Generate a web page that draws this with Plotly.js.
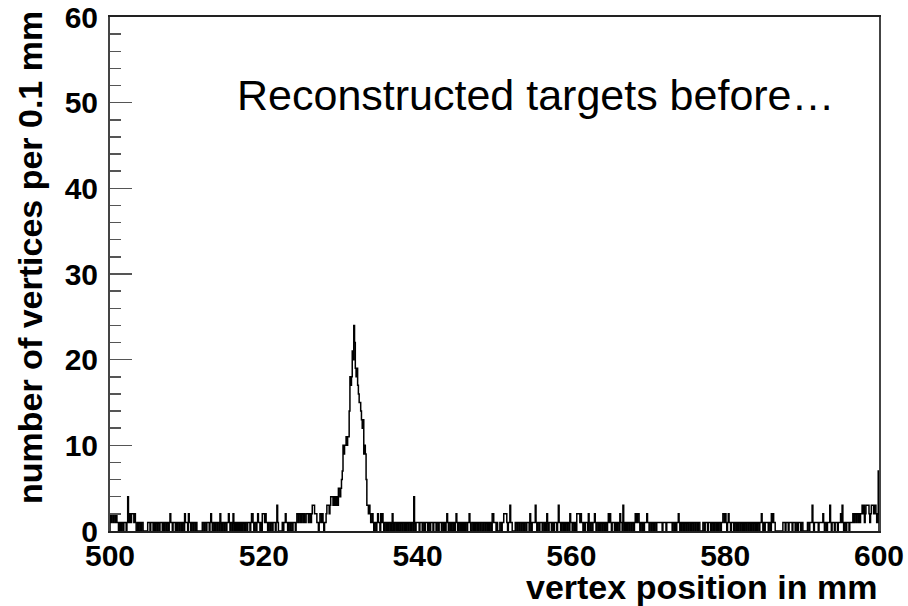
<!DOCTYPE html>
<html>
<head>
<meta charset="utf-8">
<script src="https://cdn.plot.ly/plotly-3.0.1.min.js"></script>
<style>html,body{margin:0;padding:0;background:#fff}#chart{width:908px;height:606px}</style>
</head>
<body>
<div id="chart"></div>
<script>
// Histogram: vertices per 0.1 mm bin, from 500 mm to 600 mm
const binStart = 500;
const binWidth = 0.1;

const counts500 = [
2,1,2,2,1,2,2,1,2,1, 1,0,1,1,0,1,1,0,1,1, 1,0,1,4,1,2,2,1,2,2, 2,1,2,1,0,0,1,0,1,1, 0,1,1,0,0,0,0,0,0,1,
1,1,0,1,1,1,0,1,0,1, 1,0,1,1,0,1,1,1,0,1, 0,1,1,0,1,1,0,1,2,1, 1,0,1,1,1,0,1,0,1,1, 0,1,1,0,1,1,0,2,1,1];
const counts510 = [
1,0,2,1,1,0,1,1,0,1, 1,0,1,0,0,0,0,0,0,0, 1,1,0,1,1,0,1,1,1,0, 1,2,1,0,1,1,0,1,1,0, 1,1,0,2,1,0,1,1,0,1,
1,0,1,1,2,1,0,1,1,0, 2,1,0,1,0,1,0,1,0,1, 0,1,0,1,1,0,1,1,0,1, 1,1,0,1,2,2,1,0,1,1, 0,1,2,1,1,0,1,0,2,2];
const counts520 = [
2,1,2,1,1,0,1,1,0,1, 1,0,1,1,1,0,1,3,1,0, 0,0,0,0,1,0,1,1,2,1, 1,0,1,1,0,1,1,0,1,1, 1,0,1,2,2,1,2,2,1,2,
2,1,2,1,1,2,2,2,1,2, 2,1,2,3,3,3,2,2,2,1, 1,0,1,2,2,1,2,1,0,1, 1,2,3,3,3,2,3,4,4,4, 3,4,3,4,3,4,3,5,5,4];
const counts530 = [
5,6,7,10,9,10,10,11,10,11, 11,14,18,17,18,21,20,24,22,19, 18,19,17,16,15,15,14,13,12,13, 9,10,9,6,3,3,2,3,2,1, 1,2,1,0,1,1,0,1,2,1,
1,0,2,1,2,1,0,1,1,0, 1,0,1,1,0,1,0,2,1,0, 1,1,0,1,0,1,1,0,1,1, 0,1,1,0,1,0,1,1,0,1, 1,0,1,1,0,4,1,0,1,1];
const counts540 = [
1,1,0,1,1,1,0,1,1,0, 1,1,1,0,1,1,0,1,1,1, 0,1,1,1,0,1,1,0,1,1, 1,0,1,1,0,1,0,1,2,1, 0,1,1,0,1,1,0,1,0,1,
2,1,0,1,1,0,1,0,1,0, 1,0,1,1,0,1,1,2,1,0, 0,1,1,0,1,0,1,1,0,1, 1,0,1,1,0,0,1,1,0,1, 1,0,1,0,1,1,0,2,2,1];
const counts550 = [
1,1,0,1,0,0,0,1,1,0, 1,1,2,2,2,2,1,0,1,1, 3,1,1,0,0,0,0,1,1,0, 1,1,0,1,1,0,1,1,0,1, 1,0,1,1,1,0,2,1,0,1,
1,1,1,3,1,0,1,1,0,1, 1,1,0,1,1,0,1,0,2,1, 0,1,1,1,0,1,1,0,1,1, 1,0,1,3,1,1,0,1,1,0, 1,0,1,1,0,1,1,0,2,1];
const counts560 = [
1,0,1,1,0,1,0,2,2,2, 2,1,2,1,1,0,1,0,1,1, 1,0,2,1,0,1,1,0,1,1, 2,1,0,1,1,0,1,0,1,1, 0,1,1,0,1,1,0,1,2,1,
2,1,0,1,1,1,0,1,1,0, 1,1,0,2,1,1,0,3,1,0, 1,1,0,1,1,0,1,1,0,1, 1,0,1,2,2,1,2,2,1,0, 1,1,0,1,0,1,1,1,2,1];
const counts570 = [
1,0,1,1,0,1,1,0,1,1, 0,1,1,1,1,1,1,1,0,1, 1,1,1,0,1,1,1,1,1,1, 1,0,1,1,0,1,0,1,1,2, 1,0,1,0,1,1,0,1,1,0,
1,1,0,1,1,0,1,1,0,1, 1,0,1,1,0,1,1,0,0,0, 0,1,1,0,1,1,1,0,1,1, 1,0,1,1,0,1,0,1,1,0, 1,0,1,1,0,1,1,2,2,1];
const counts580 = [
2,1,0,1,2,1,1,0,1,1, 1,0,1,1,0,1,0,1,1,0, 1,1,0,1,0,1,1,0,1,1, 0,1,1,0,1,1,0,1,1,0, 1,0,1,1,0,1,1,2,1,0,
1,0,1,1,1,1,0,1,1,0, 2,1,2,1,1,0,0,0,0,0, 0,0,0,0,0,1,1,1,0,1, 1,1,0,1,1,1,1,0,1,1, 1,0,1,1,0,1,1,1,0,1];
const counts590 = [
1,0,0,0,0,0,0,1,1,0, 1,1,1,3,1,0,1,1,1,1, 1,0,1,1,1,1,1,2,1,0, 1,1,0,1,1,1,3,1,0,1, 1,1,0,1,1,1,0,1,1,1,
2,1,3,1,0,1,1,0,1,1, 1,0,1,1,1,1,2,1,2,2, 1,2,2,1,2,1,2,2,3,2, 3,1,2,3,3,3,3,2,1,2, 3,3,3,2,3,3,2,1,2,7];

const yTickVals = [0, 10, 20, 30, 40, 50, 60];
const xTickVals = [500, 520, 540, 560, 580, 600];

const xTitle = "vertex position in mm";
const yTitle = "number of vertices per 0.1 mm";
const note = "Reconstructed targets before…";

const counts = [].concat(counts500, counts510, counts520, counts530, counts540,
                         counts550, counts560, counts570, counts580, counts590);

// step outline (ROOT-like histogram)
const xs = [binStart], ys = [0];
counts.forEach((c, i) => { xs.push(binStart + i * binWidth); ys.push(c); });
const xEnd = binStart + counts.length * binWidth;
xs.push(xEnd); ys.push(counts[counts.length - 1]);
xs.push(xEnd); ys.push(0);

const boldFont = {family: "Liberation Sans, Arial, sans-serif", size: 30, color: "#000", weight: 700};

const trace = {
  x: xs, y: ys, type: "scatter", mode: "lines",
  line: {shape: "hv", color: "#000", width: 1.5},
  hoverinfo: "skip", showlegend: false
};

const layout = {
  width: 908, height: 606,
  margin: {l: 110, r: 29, t: 17, b: 75},
  paper_bgcolor: "#fff", plot_bgcolor: "#fff",
  xaxis: {
    range: [500, 600], tickvals: xTickVals, ticks: "", showgrid: false, zeroline: false,
    showline: true, linecolor: "#222", linewidth: 2, mirror: true,
    tickfont: boldFont, ticklabelstandoff: -3
  },
  yaxis: {
    range: [0, 60], tickvals: yTickVals, ticks: "inside", ticklen: 22, tickwidth: 1.5, tickcolor: "#555",
    minor: {dtick: 2, ticks: "inside", ticklen: 11, tickwidth: 1.5, tickcolor: "#555"},
    showgrid: false, zeroline: false,
    showline: true, linecolor: "#444", linewidth: 2, mirror: true,
    tickfont: boldFont, ticklabelstandoff: 4
  },
  annotations: [
    {text: note, xref: "paper", yref: "paper", x: (235 - 110) / 769, y: (531 - 95) / 514,
     xanchor: "left", yanchor: "middle", showarrow: false,
     font: {family: "Liberation Sans, Arial, sans-serif", size: 43, color: "#000"}},
    {text: xTitle, xref: "paper", yref: "paper", x: 1.0, y: (531 - 587) / 514,
     xanchor: "right", yanchor: "middle", showarrow: false,
     font: {family: "Liberation Sans, Arial, sans-serif", size: 34, color: "#000", weight: 700}},
    {text: yTitle, xref: "paper", yref: "paper", x: (30 - 110) / 769, y: (531 - 258) / 514,
     xanchor: "center", yanchor: "middle", textangle: -90, showarrow: false,
     font: {family: "Liberation Sans, Arial, sans-serif", size: 34, color: "#000", weight: 700}}
  ]
};

Plotly.newPlot("chart", [trace], layout, {staticPlot: true, displayModeBar: false});
</script>
</body>
</html>
